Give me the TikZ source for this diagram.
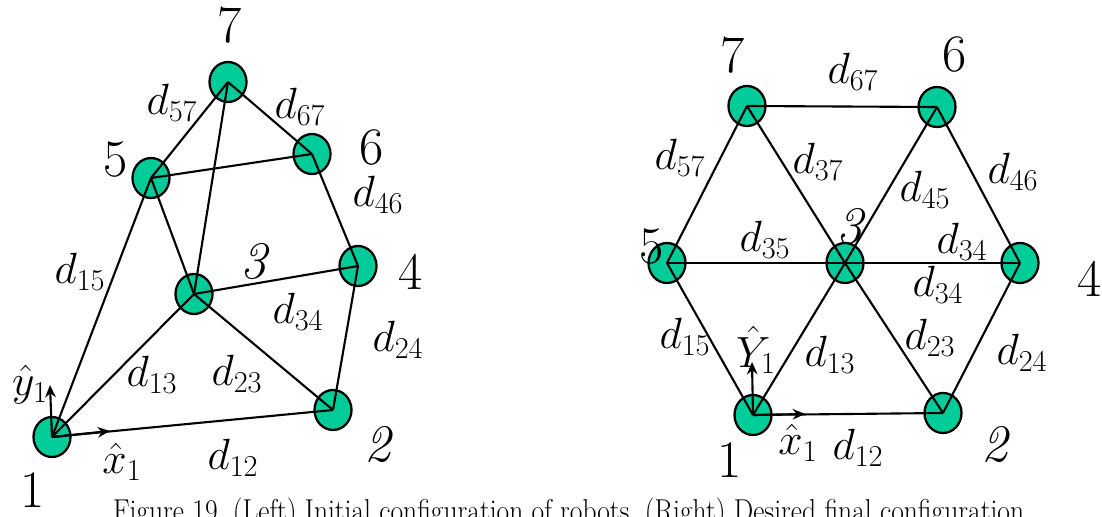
\documentclass[tikz,border=0pt]{standalone}
\usetikzlibrary{shapes.geometric,arrows.meta}
\definecolor{robotgreen}{RGB}{0,204,153}
\tikzset{
  robot/.style={ellipse, draw=black, line width=1.3pt, fill=robotgreen,
    minimum width=0.74cm, minimum height=0.8cm, inner sep=0pt},
  link/.style={line width=1.2pt},
  axis/.style={line width=1.2pt, -{Stealth[length=7pt,width=6pt]}},
  dlabel/.style={font=\fontsize{24}{28}\selectfont},
  idlabel/.style={font=\fontsize{30}{36}\selectfont},
}
\begin{document}
\begin{tikzpicture}[x=0.02cm, y=-0.02cm] % pixel units, y pointing down
    \useasboundingbox (0,0) rectangle (1102,517);

    % Left: initial configuration
    \node[robot] (l1) at (52,437) {};
    \node[robot] (l2) at (333,410) {};
    \node[robot] (l3) at (194,294) {};
    \node[robot] (l4) at (358,266) {};
    \node[robot] (l5) at (151,178) {};
    \node[robot] (l6) at (312,154) {};
    \node[robot] (l7) at (228,82) {};

    % Links between robots
    \draw[link] (l1.center) -- (l2.center);
    \draw[link] (l1.center) -- (l3.center);
    \draw[link] (l1.center) -- (l5.center);
    \draw[link] (l3.center) -- (l2.center);
    \draw[link] (l3.center) -- (l4.center);
    \draw[link] (l3.center) -- (l5.center);
    \draw[link] (l3.center) -- (l7.center);
    \draw[link] (l5.center) -- (l6.center);
    \draw[link] (l5.center) -- (l7.center);
    \draw[link] (l7.center) -- (l6.center);
    \draw[link] (l6.center) -- (l4.center);
    \draw[link] (l4.center) -- (l2.center);

    % Local frame of robot 1
    \coordinate (ly) at (50,385);
    \coordinate (lx) at (110,431);
    \draw[axis] (l1.center) -- (ly);
    \draw[axis] (l1.center) -- (lx);
    \node[dlabel] (lyhat) at (30,385) {$\hat{y}_1$};
    \node[dlabel] (lxhat) at (122,462) {$\hat{x}_1$};

    % Robot numbers
    \node[idlabel] (n1l) at (33,490) {1};
    \node[idlabel] (n2l) at (378,445) {\itshape 2};
    \node[idlabel] (n3l) at (254,262) {\itshape 3};
    \node[idlabel] (n4l) at (411,272) {4};
    \node[idlabel] (n5l) at (116,160) {5};
    \node[idlabel] (n6l) at (372,148) {6};
    \node[idlabel] (n7l) at (230,25) {7};

    % Distances
    \node[dlabel] (d57l) at (172,103) {$d_{57}$};
    \node[dlabel] (d67l) at (300,107) {$d_{67}$};
    \node[dlabel] (d46l) at (378,195) {$d_{46}$};
    \node[dlabel] (d15l) at (80,272) {$d_{15}$};
    \node[dlabel] (d34l) at (298,312) {$d_{34}$};
    \node[dlabel] (d24l) at (398,340) {$d_{24}$};
    \node[dlabel] (d13l) at (152,375) {$d_{13}$};
    \node[dlabel] (d23l) at (237,374) {$d_{23}$};
    \node[dlabel] (d12l) at (233,458) {$d_{12}$};

    % Right: desired final configuration
    \node[robot] (r1) at (753,415) {};
    \node[robot] (r2) at (943,413) {};
    \node[robot] (r3) at (845,263) {};
    \node[robot] (r4) at (1020,263) {};
    \node[robot] (r5) at (667,263) {};
    \node[robot] (r6) at (937,107) {};
    \node[robot] (r7) at (747,106) {};

    % Links between robots
    \draw[link] (r7.center) -- (r6.center);
    \draw[link] (r7.center) -- (r5.center);
    \draw[link] (r7.center) -- (r3.center);
    \draw[link] (r6.center) -- (r3.center);
    \draw[link] (r6.center) -- (r4.center);
    \draw[link] (r5.center) -- (r3.center);
    \draw[link] (r3.center) -- (r4.center);
    \draw[link] (r5.center) -- (r1.center);
    \draw[link] (r1.center) -- (r3.center);
    \draw[link] (r3.center) -- (r2.center);
    \draw[link] (r1.center) -- (r2.center);
    \draw[link] (r2.center) -- (r4.center);

    % Local frame of robot 1
    \coordinate (ry) at (752,362);
    \coordinate (rx) at (805,414);
    \draw[axis] (r1.center) -- (ry);
    \draw[axis] (r1.center) -- (rx);
    \node[dlabel] (ryhat) at (756,350) {$\hat{Y}_1$};
    \node[dlabel] (rxhat) at (798,443) {$\hat{x}_1$};

    % Robot numbers
    \node[idlabel] (n1r) at (730,460) {1};
    \node[idlabel] (n2r) at (995,445) {\itshape 2};
    \node[idlabel] (n3r) at (850,227) {\itshape 3};
    \node[idlabel] (n4r) at (1090,279) {4};
    \node[idlabel] (n5r) at (652,247) {5};
    \node[idlabel] (n6r) at (955,55) {6};
    \node[idlabel] (n7r) at (733,55) {7};

    % Distances
    \node[dlabel] (d67r) at (853,72) {$d_{67}$};
    \node[dlabel] (d57r) at (680,158) {$d_{57}$};
    \node[dlabel] (d37r) at (818,162) {$d_{37}$};
    \node[dlabel] (d45r) at (925,190) {$d_{45}$};
    \node[dlabel] (d46r) at (1013,172) {$d_{46}$};
    \node[dlabel] (d35r) at (765,240) {$d_{35}$};
    \node[dlabel] (d34r) at (962,242) {$d_{34}$};
    \node[dlabel] (d34rb) at (938,285) {$d_{34}$};
    \node[dlabel] (d15r) at (685,337) {$d_{15}$};
    \node[dlabel] (d13r) at (830,355) {$d_{13}$};
    \node[dlabel] (d23r) at (930,338) {$d_{23}$};
    \node[dlabel] (d24r) at (1022,353) {$d_{24}$};
    \node[dlabel] (d12r) at (858,448) {$d_{12}$};

    % Caption, cut by the lower edge
    \node[anchor=base, xscale=0.87, font=\fontsize{18}{20}\selectfont] (caption) at (572,521)
      {Figure 19.\ (Left) Initial configuration of robots.\ (Right) Desired final configuration.};
\end{tikzpicture}
\end{document}
